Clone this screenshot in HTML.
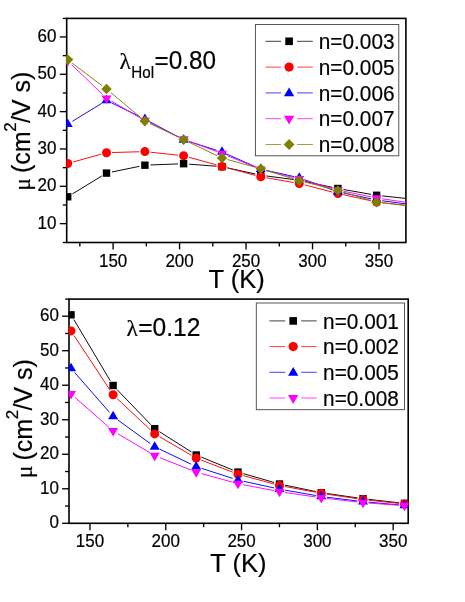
<!DOCTYPE html><html><head><meta charset="utf-8"><title>mobility</title><style>html,body{margin:0;padding:0;background:#fff}svg{display:block}text{font-family:"Liberation Sans", sans-serif;fill:#000;stroke:#000;stroke-width:0.2px}</style></head><body>
<svg width="465" height="602" viewBox="0 0 465 602">
<rect width="465" height="602" fill="#fff"/>
<g style="will-change:transform">
<rect x="66.7" y="18.4" width="339.20" height="224.10" fill="none" stroke="#000" stroke-width="1.6"/>
<line x1="79.86" y1="242.5" x2="79.86" y2="246.4" stroke="#000" stroke-width="1.35"/>
<line x1="113.10" y1="242.5" x2="113.10" y2="249.4" stroke="#000" stroke-width="1.35"/>
<text transform="translate(113.10 266.50) scale(1 1.035)" font-size="17" text-anchor="middle">150</text>
<line x1="146.34" y1="242.5" x2="146.34" y2="246.4" stroke="#000" stroke-width="1.35"/>
<line x1="179.57" y1="242.5" x2="179.57" y2="249.4" stroke="#000" stroke-width="1.35"/>
<text transform="translate(179.57 266.50) scale(1 1.035)" font-size="17" text-anchor="middle">200</text>
<line x1="212.81" y1="242.5" x2="212.81" y2="246.4" stroke="#000" stroke-width="1.35"/>
<line x1="246.05" y1="242.5" x2="246.05" y2="249.4" stroke="#000" stroke-width="1.35"/>
<text transform="translate(246.05 266.50) scale(1 1.035)" font-size="17" text-anchor="middle">250</text>
<line x1="279.29" y1="242.5" x2="279.29" y2="246.4" stroke="#000" stroke-width="1.35"/>
<line x1="312.52" y1="242.5" x2="312.52" y2="249.4" stroke="#000" stroke-width="1.35"/>
<text transform="translate(312.52 266.50) scale(1 1.035)" font-size="17" text-anchor="middle">300</text>
<line x1="345.76" y1="242.5" x2="345.76" y2="246.4" stroke="#000" stroke-width="1.35"/>
<line x1="379.00" y1="242.5" x2="379.00" y2="249.4" stroke="#000" stroke-width="1.35"/>
<text transform="translate(379.00 266.50) scale(1 1.035)" font-size="17" text-anchor="middle">350</text>
<line x1="62.800000000000004" y1="242.50" x2="66.7" y2="242.50" stroke="#000" stroke-width="1.35"/>
<line x1="59.800000000000004" y1="223.65" x2="66.7" y2="223.65" stroke="#000" stroke-width="1.35"/>
<text transform="translate(56.40 228.55) scale(1 1.035)" font-size="17" text-anchor="end">10</text>
<line x1="62.800000000000004" y1="204.98" x2="66.7" y2="204.98" stroke="#000" stroke-width="1.35"/>
<line x1="59.800000000000004" y1="186.31" x2="66.7" y2="186.31" stroke="#000" stroke-width="1.35"/>
<text transform="translate(56.40 191.21) scale(1 1.035)" font-size="17" text-anchor="end">20</text>
<line x1="62.800000000000004" y1="167.64" x2="66.7" y2="167.64" stroke="#000" stroke-width="1.35"/>
<line x1="59.800000000000004" y1="148.97" x2="66.7" y2="148.97" stroke="#000" stroke-width="1.35"/>
<text transform="translate(56.40 153.87) scale(1 1.035)" font-size="17" text-anchor="end">30</text>
<line x1="62.800000000000004" y1="130.30" x2="66.7" y2="130.30" stroke="#000" stroke-width="1.35"/>
<line x1="59.800000000000004" y1="111.63" x2="66.7" y2="111.63" stroke="#000" stroke-width="1.35"/>
<text transform="translate(56.40 116.53) scale(1 1.035)" font-size="17" text-anchor="end">40</text>
<line x1="62.800000000000004" y1="92.96" x2="66.7" y2="92.96" stroke="#000" stroke-width="1.35"/>
<line x1="59.800000000000004" y1="74.29" x2="66.7" y2="74.29" stroke="#000" stroke-width="1.35"/>
<text transform="translate(56.40 79.19) scale(1 1.035)" font-size="17" text-anchor="end">50</text>
<line x1="62.800000000000004" y1="55.62" x2="66.7" y2="55.62" stroke="#000" stroke-width="1.35"/>
<line x1="59.800000000000004" y1="36.95" x2="66.7" y2="36.95" stroke="#000" stroke-width="1.35"/>
<text transform="translate(56.40 41.85) scale(1 1.035)" font-size="17" text-anchor="end">60</text>
<line x1="62.800000000000004" y1="18.40" x2="66.7" y2="18.40" stroke="#000" stroke-width="1.35"/>
<defs><clipPath id="c1"><rect x="66.2" y="17.9" width="340.00" height="225.10"/></clipPath></defs>
<g clip-path="url(#c1)">
<line x1="72.48" y1="193.88" x2="101.72" y2="176.02" stroke="#000000" stroke-width="0.95"/>
<line x1="111.99" y1="171.97" x2="139.41" y2="166.33" stroke="#000000" stroke-width="0.95"/>
<line x1="150.50" y1="164.98" x2="178.00" y2="163.92" stroke="#000000" stroke-width="0.95"/>
<line x1="189.18" y1="164.14" x2="216.42" y2="166.26" stroke="#000000" stroke-width="0.95"/>
<line x1="227.47" y1="167.90" x2="255.33" y2="174.00" stroke="#000000" stroke-width="0.95"/>
<line x1="266.35" y1="175.94" x2="293.75" y2="179.56" stroke="#000000" stroke-width="0.95"/>
<line x1="304.78" y1="181.46" x2="332.42" y2="187.34" stroke="#000000" stroke-width="0.95"/>
<line x1="343.42" y1="189.47" x2="371.08" y2="194.33" stroke="#000000" stroke-width="0.95"/>
<line x1="382.17" y1="195.89" x2="406.60" y2="198.50" stroke="#000000" stroke-width="0.95"/>
<rect x="64.00" y="193.10" width="7.40" height="7.40" fill="#000000"/>
<rect x="102.80" y="169.40" width="7.40" height="7.40" fill="#000000"/>
<rect x="141.20" y="161.50" width="7.40" height="7.40" fill="#000000"/>
<rect x="179.90" y="160.00" width="7.40" height="7.40" fill="#000000"/>
<rect x="218.30" y="163.00" width="7.40" height="7.40" fill="#000000"/>
<rect x="257.10" y="171.50" width="7.40" height="7.40" fill="#000000"/>
<rect x="295.60" y="176.60" width="7.40" height="7.40" fill="#000000"/>
<rect x="334.20" y="184.80" width="7.40" height="7.40" fill="#000000"/>
<rect x="372.90" y="191.60" width="7.40" height="7.40" fill="#000000"/>
<line x1="73.09" y1="162.00" x2="101.11" y2="154.20" stroke="#ff0000" stroke-width="0.95"/>
<line x1="112.10" y1="152.54" x2="139.30" y2="151.76" stroke="#ff0000" stroke-width="0.95"/>
<line x1="150.47" y1="152.20" x2="178.03" y2="155.20" stroke="#ff0000" stroke-width="0.95"/>
<line x1="189.00" y1="157.29" x2="216.60" y2="164.91" stroke="#ff0000" stroke-width="0.95"/>
<line x1="227.41" y1="167.85" x2="255.39" y2="175.35" stroke="#ff0000" stroke-width="0.95"/>
<line x1="266.32" y1="177.76" x2="293.78" y2="182.54" stroke="#ff0000" stroke-width="0.95"/>
<line x1="304.72" y1="184.90" x2="332.48" y2="192.10" stroke="#ff0000" stroke-width="0.95"/>
<line x1="343.37" y1="194.70" x2="371.13" y2="200.80" stroke="#ff0000" stroke-width="0.95"/>
<line x1="382.16" y1="202.65" x2="406.60" y2="205.50" stroke="#ff0000" stroke-width="0.95"/>
<circle cx="67.70" cy="163.50" r="4.50" fill="#ff0000"/>
<circle cx="106.50" cy="152.70" r="4.50" fill="#ff0000"/>
<circle cx="144.90" cy="151.60" r="4.50" fill="#ff0000"/>
<circle cx="183.60" cy="155.80" r="4.50" fill="#ff0000"/>
<circle cx="222.00" cy="166.40" r="4.50" fill="#ff0000"/>
<circle cx="260.80" cy="176.80" r="4.50" fill="#ff0000"/>
<circle cx="299.30" cy="183.50" r="4.50" fill="#ff0000"/>
<circle cx="337.90" cy="193.50" r="4.50" fill="#ff0000"/>
<circle cx="376.60" cy="202.00" r="4.50" fill="#ff0000"/>
<line x1="72.47" y1="121.27" x2="101.73" y2="103.33" stroke="#0000ff" stroke-width="0.95"/>
<line x1="111.53" y1="102.85" x2="139.87" y2="116.65" stroke="#0000ff" stroke-width="0.95"/>
<line x1="149.84" y1="121.74" x2="178.66" y2="137.16" stroke="#0000ff" stroke-width="0.95"/>
<line x1="188.94" y1="141.50" x2="216.66" y2="150.30" stroke="#0000ff" stroke-width="0.95"/>
<line x1="227.12" y1="154.26" x2="255.68" y2="166.84" stroke="#0000ff" stroke-width="0.95"/>
<line x1="266.26" y1="170.33" x2="293.84" y2="176.57" stroke="#0000ff" stroke-width="0.95"/>
<line x1="304.56" y1="179.71" x2="332.64" y2="189.89" stroke="#0000ff" stroke-width="0.95"/>
<line x1="343.38" y1="192.96" x2="371.12" y2="198.84" stroke="#0000ff" stroke-width="0.95"/>
<line x1="382.15" y1="200.74" x2="406.60" y2="204.00" stroke="#0000ff" stroke-width="0.95"/>
<path d="M62.70 127.05L72.70 127.05L67.70 118.55Z" fill="#0000ff"/>
<path d="M101.50 103.25L111.50 103.25L106.50 94.75Z" fill="#0000ff"/>
<path d="M139.90 121.95L149.90 121.95L144.90 113.45Z" fill="#0000ff"/>
<path d="M178.60 142.65L188.60 142.65L183.60 134.15Z" fill="#0000ff"/>
<path d="M217.00 154.85L227.00 154.85L222.00 146.35Z" fill="#0000ff"/>
<path d="M255.80 171.95L265.80 171.95L260.80 163.45Z" fill="#0000ff"/>
<path d="M294.30 180.65L304.30 180.65L299.30 172.15Z" fill="#0000ff"/>
<path d="M332.90 194.65L342.90 194.65L337.90 186.15Z" fill="#0000ff"/>
<path d="M371.60 202.85L381.60 202.85L376.60 194.35Z" fill="#0000ff"/>
<line x1="71.73" y1="64.69" x2="102.47" y2="94.36" stroke="#ff00ff" stroke-width="0.95"/>
<line x1="111.34" y1="101.07" x2="140.06" y2="117.78" stroke="#ff00ff" stroke-width="0.95"/>
<line x1="149.95" y1="123.03" x2="178.55" y2="136.77" stroke="#ff00ff" stroke-width="0.95"/>
<line x1="188.85" y1="141.15" x2="216.75" y2="151.55" stroke="#ff00ff" stroke-width="0.95"/>
<line x1="227.19" y1="155.61" x2="255.61" y2="167.19" stroke="#ff00ff" stroke-width="0.95"/>
<line x1="266.23" y1="170.65" x2="293.87" y2="177.55" stroke="#ff00ff" stroke-width="0.95"/>
<line x1="304.68" y1="180.45" x2="332.52" y2="188.45" stroke="#ff00ff" stroke-width="0.95"/>
<line x1="343.38" y1="191.13" x2="371.12" y2="196.87" stroke="#ff00ff" stroke-width="0.95"/>
<line x1="382.14" y1="198.81" x2="406.60" y2="202.40" stroke="#ff00ff" stroke-width="0.95"/>
<path d="M62.70 57.95L72.70 57.95L67.70 66.45Z" fill="#ff00ff"/>
<path d="M101.50 95.40L111.50 95.40L106.50 103.90Z" fill="#ff00ff"/>
<path d="M139.90 117.75L149.90 117.75L144.90 126.25Z" fill="#ff00ff"/>
<path d="M178.60 136.35L188.60 136.35L183.60 144.85Z" fill="#ff00ff"/>
<path d="M217.00 150.65L227.00 150.65L222.00 159.15Z" fill="#ff00ff"/>
<path d="M255.80 166.45L265.80 166.45L260.80 174.95Z" fill="#ff00ff"/>
<path d="M294.30 176.05L304.30 176.05L299.30 184.55Z" fill="#ff00ff"/>
<path d="M332.90 187.15L342.90 187.15L337.90 195.65Z" fill="#ff00ff"/>
<path d="M371.60 195.15L381.60 195.15L376.60 203.65Z" fill="#ff00ff"/>
<line x1="72.17" y1="63.07" x2="102.03" y2="85.63" stroke="#808000" stroke-width="0.95"/>
<line x1="110.80" y1="92.59" x2="140.60" y2="117.51" stroke="#808000" stroke-width="0.95"/>
<line x1="149.95" y1="123.52" x2="178.55" y2="137.18" stroke="#808000" stroke-width="0.95"/>
<line x1="188.65" y1="142.03" x2="216.95" y2="155.62" stroke="#808000" stroke-width="0.95"/>
<line x1="227.40" y1="159.54" x2="255.40" y2="167.26" stroke="#808000" stroke-width="0.95"/>
<line x1="266.15" y1="170.40" x2="293.95" y2="179.00" stroke="#808000" stroke-width="0.95"/>
<line x1="304.73" y1="182.03" x2="332.47" y2="189.12" stroke="#808000" stroke-width="0.95"/>
<line x1="343.26" y1="192.12" x2="371.24" y2="200.58" stroke="#808000" stroke-width="0.95"/>
<line x1="382.17" y1="202.81" x2="406.60" y2="205.50" stroke="#808000" stroke-width="0.95"/>
<path d="M62.50 59.70L67.70 54.40L72.90 59.70L67.70 65.00Z" fill="#808000"/>
<path d="M101.30 89.00L106.50 83.70L111.70 89.00L106.50 94.30Z" fill="#808000"/>
<path d="M139.70 121.10L144.90 115.80L150.10 121.10L144.90 126.40Z" fill="#808000"/>
<path d="M178.40 139.60L183.60 134.30L188.80 139.60L183.60 144.90Z" fill="#808000"/>
<path d="M216.80 158.05L222.00 152.75L227.20 158.05L222.00 163.35Z" fill="#808000"/>
<path d="M255.60 168.75L260.80 163.45L266.00 168.75L260.80 174.05Z" fill="#808000"/>
<path d="M294.10 180.65L299.30 175.35L304.50 180.65L299.30 185.95Z" fill="#808000"/>
<path d="M332.70 190.50L337.90 185.20L343.10 190.50L337.90 195.80Z" fill="#808000"/>
<path d="M371.40 202.20L376.60 196.90L381.80 202.20L376.60 207.50Z" fill="#808000"/>
<path d="M66.2 55.3L67.8 54.8L73.1 59.6L67.8 64.5L66.2 64.1Z" fill="#808000"/>
</g>
<text transform="translate(236.60 288.40) scale(1 1.0)" font-size="25.5" text-anchor="middle">T (K)</text>
<g transform="translate(30 0) rotate(-90)">
<text x="-190.50" y="0" font-size="23" style='font-family:"Liberation Serif", serif'>μ</text>
<text x="-173.00" y="0" font-size="25">(cm</text>
<text x="-131.70" y="-13.8" font-size="17">2</text>
<text x="-123.00" y="0" font-size="25">/V s)</text>
</g>
<text transform="translate(119.50 69.30) scale(1 0.98)" font-size="23.5" text-anchor="start" style='font-family:"Liberation Serif", serif'>λ</text>
<text transform="translate(131.30 78.40) scale(1 1.035)" font-size="15.2" text-anchor="start">Hol</text>
<text transform="translate(154.50 69.30) scale(1 1.035)" font-size="24.3" text-anchor="start">=0.80</text>
<rect x="255.4" y="24.5" width="143.4" height="131.3" fill="#fff" stroke="#444" stroke-width="0.9"/>
<line x1="265.5" y1="41.3" x2="281.1" y2="41.3" stroke="#000000" stroke-width="0.75"/>
<line x1="297.1" y1="41.3" x2="312.8" y2="41.3" stroke="#000000" stroke-width="0.75"/>
<rect x="285.29" y="37.49" width="7.62" height="7.62" fill="#000000"/>
<text transform="translate(318.80 48.90) scale(1 1.035)" font-size="20.8" text-anchor="start">n=0.003</text>
<line x1="265.5" y1="67.1" x2="281.1" y2="67.1" stroke="#ff0000" stroke-width="0.75"/>
<line x1="297.1" y1="67.1" x2="312.8" y2="67.1" stroke="#ff0000" stroke-width="0.75"/>
<circle cx="289.10" cy="67.10" r="4.63" fill="#ff0000"/>
<text transform="translate(318.80 74.70) scale(1 1.035)" font-size="20.8" text-anchor="start">n=0.005</text>
<line x1="265.5" y1="92.9" x2="281.1" y2="92.9" stroke="#0000ff" stroke-width="0.75"/>
<line x1="297.1" y1="92.9" x2="312.8" y2="92.9" stroke="#0000ff" stroke-width="0.75"/>
<path d="M283.95 96.28L294.25 96.28L289.10 87.52Z" fill="#0000ff"/>
<text transform="translate(318.80 100.50) scale(1 1.035)" font-size="20.8" text-anchor="start">n=0.006</text>
<line x1="265.5" y1="118.7" x2="281.1" y2="118.7" stroke="#ff00ff" stroke-width="0.75"/>
<line x1="297.1" y1="118.7" x2="312.8" y2="118.7" stroke="#ff00ff" stroke-width="0.75"/>
<path d="M283.95 115.82L294.25 115.82L289.10 124.58Z" fill="#ff00ff"/>
<text transform="translate(318.80 126.30) scale(1 1.035)" font-size="20.8" text-anchor="start">n=0.007</text>
<line x1="265.5" y1="144.5" x2="281.1" y2="144.5" stroke="#808000" stroke-width="0.75"/>
<line x1="297.1" y1="144.5" x2="312.8" y2="144.5" stroke="#808000" stroke-width="0.75"/>
<path d="M283.74 144.50L289.10 139.04L294.46 144.50L289.10 149.96Z" fill="#808000"/>
<text transform="translate(318.80 152.10) scale(1 1.035)" font-size="20.8" text-anchor="start">n=0.008</text>
<rect x="69.0" y="299.1" width="339.20" height="224.20" fill="none" stroke="#000" stroke-width="1.6"/>
<line x1="89.96" y1="523.3" x2="89.96" y2="530.1999999999999" stroke="#000" stroke-width="1.35"/>
<text transform="translate(89.96 546.90) scale(1 1.035)" font-size="17" text-anchor="middle">150</text>
<line x1="127.86" y1="523.3" x2="127.86" y2="527.1999999999999" stroke="#000" stroke-width="1.35"/>
<line x1="165.76" y1="523.3" x2="165.76" y2="530.1999999999999" stroke="#000" stroke-width="1.35"/>
<text transform="translate(165.76 546.90) scale(1 1.035)" font-size="17" text-anchor="middle">200</text>
<line x1="203.66" y1="523.3" x2="203.66" y2="527.1999999999999" stroke="#000" stroke-width="1.35"/>
<line x1="241.56" y1="523.3" x2="241.56" y2="530.1999999999999" stroke="#000" stroke-width="1.35"/>
<text transform="translate(241.56 546.90) scale(1 1.035)" font-size="17" text-anchor="middle">250</text>
<line x1="279.46" y1="523.3" x2="279.46" y2="527.1999999999999" stroke="#000" stroke-width="1.35"/>
<line x1="317.36" y1="523.3" x2="317.36" y2="530.1999999999999" stroke="#000" stroke-width="1.35"/>
<text transform="translate(317.36 546.90) scale(1 1.035)" font-size="17" text-anchor="middle">300</text>
<line x1="355.26" y1="523.3" x2="355.26" y2="527.1999999999999" stroke="#000" stroke-width="1.35"/>
<line x1="393.16" y1="523.3" x2="393.16" y2="530.1999999999999" stroke="#000" stroke-width="1.35"/>
<text transform="translate(393.16 546.90) scale(1 1.035)" font-size="17" text-anchor="middle">350</text>
<line x1="62.1" y1="523.30" x2="69.0" y2="523.30" stroke="#000" stroke-width="1.35"/>
<text transform="translate(59.00 528.20) scale(1 1.035)" font-size="17" text-anchor="end">0</text>
<line x1="65.1" y1="506.04" x2="69.0" y2="506.04" stroke="#000" stroke-width="1.35"/>
<line x1="62.1" y1="488.78" x2="69.0" y2="488.78" stroke="#000" stroke-width="1.35"/>
<text transform="translate(59.00 493.68) scale(1 1.035)" font-size="17" text-anchor="end">10</text>
<line x1="65.1" y1="471.52" x2="69.0" y2="471.52" stroke="#000" stroke-width="1.35"/>
<line x1="62.1" y1="454.26" x2="69.0" y2="454.26" stroke="#000" stroke-width="1.35"/>
<text transform="translate(59.00 459.16) scale(1 1.035)" font-size="17" text-anchor="end">20</text>
<line x1="65.1" y1="437.00" x2="69.0" y2="437.00" stroke="#000" stroke-width="1.35"/>
<line x1="62.1" y1="419.74" x2="69.0" y2="419.74" stroke="#000" stroke-width="1.35"/>
<text transform="translate(59.00 424.64) scale(1 1.035)" font-size="17" text-anchor="end">30</text>
<line x1="65.1" y1="402.48" x2="69.0" y2="402.48" stroke="#000" stroke-width="1.35"/>
<line x1="62.1" y1="385.22" x2="69.0" y2="385.22" stroke="#000" stroke-width="1.35"/>
<text transform="translate(59.00 390.12) scale(1 1.035)" font-size="17" text-anchor="end">40</text>
<line x1="65.1" y1="367.96" x2="69.0" y2="367.96" stroke="#000" stroke-width="1.35"/>
<line x1="62.1" y1="350.70" x2="69.0" y2="350.70" stroke="#000" stroke-width="1.35"/>
<text transform="translate(59.00 355.60) scale(1 1.035)" font-size="17" text-anchor="end">50</text>
<line x1="65.1" y1="333.44" x2="69.0" y2="333.44" stroke="#000" stroke-width="1.35"/>
<line x1="62.1" y1="316.18" x2="69.0" y2="316.18" stroke="#000" stroke-width="1.35"/>
<text transform="translate(59.00 321.08) scale(1 1.035)" font-size="17" text-anchor="end">60</text>
<line x1="65.1" y1="299.10" x2="69.0" y2="299.10" stroke="#000" stroke-width="1.35"/>
<defs><clipPath id="c2"><rect x="68.5" y="298.6" width="340.00" height="225.20"/></clipPath></defs>
<g clip-path="url(#c2)">
<line x1="73.87" y1="319.61" x2="110.23" y2="380.69" stroke="#000000" stroke-width="0.95"/>
<line x1="116.98" y1="389.53" x2="150.82" y2="424.67" stroke="#000000" stroke-width="0.95"/>
<line x1="159.43" y1="431.70" x2="191.47" y2="452.00" stroke="#000000" stroke-width="0.95"/>
<line x1="201.38" y1="457.12" x2="232.82" y2="469.98" stroke="#000000" stroke-width="0.95"/>
<line x1="243.38" y1="473.64" x2="274.12" y2="482.46" stroke="#000000" stroke-width="0.95"/>
<line x1="284.98" y1="485.14" x2="315.82" y2="491.56" stroke="#000000" stroke-width="0.95"/>
<line x1="326.84" y1="493.50" x2="357.46" y2="497.90" stroke="#000000" stroke-width="0.95"/>
<line x1="368.56" y1="499.33" x2="398.94" y2="502.77" stroke="#000000" stroke-width="0.95"/>
<rect x="67.30" y="311.10" width="7.40" height="7.40" fill="#000000"/>
<rect x="109.40" y="381.80" width="7.40" height="7.40" fill="#000000"/>
<rect x="151.00" y="425.00" width="7.40" height="7.40" fill="#000000"/>
<rect x="192.50" y="451.30" width="7.40" height="7.40" fill="#000000"/>
<rect x="234.30" y="468.40" width="7.40" height="7.40" fill="#000000"/>
<rect x="275.80" y="480.30" width="7.40" height="7.40" fill="#000000"/>
<rect x="317.60" y="489.00" width="7.40" height="7.40" fill="#000000"/>
<rect x="359.30" y="495.00" width="7.40" height="7.40" fill="#000000"/>
<rect x="400.80" y="499.70" width="7.40" height="7.40" fill="#000000"/>
<line x1="74.08" y1="335.58" x2="110.02" y2="390.12" stroke="#ff0000" stroke-width="0.95"/>
<line x1="117.18" y1="398.64" x2="150.62" y2="430.06" stroke="#ff0000" stroke-width="0.95"/>
<line x1="159.54" y1="436.72" x2="191.36" y2="455.28" stroke="#ff0000" stroke-width="0.95"/>
<line x1="201.43" y1="460.11" x2="232.77" y2="472.19" stroke="#ff0000" stroke-width="0.95"/>
<line x1="243.40" y1="475.67" x2="274.10" y2="484.03" stroke="#ff0000" stroke-width="0.95"/>
<line x1="285.00" y1="486.53" x2="315.80" y2="492.27" stroke="#ff0000" stroke-width="0.95"/>
<line x1="326.84" y1="494.14" x2="357.46" y2="498.76" stroke="#ff0000" stroke-width="0.95"/>
<line x1="368.57" y1="500.19" x2="398.93" y2="503.41" stroke="#ff0000" stroke-width="0.95"/>
<circle cx="71.00" cy="330.90" r="4.50" fill="#ff0000"/>
<circle cx="113.10" cy="394.80" r="4.50" fill="#ff0000"/>
<circle cx="154.70" cy="433.90" r="4.50" fill="#ff0000"/>
<circle cx="196.20" cy="458.10" r="4.50" fill="#ff0000"/>
<circle cx="238.00" cy="474.20" r="4.50" fill="#ff0000"/>
<circle cx="279.50" cy="485.50" r="4.50" fill="#ff0000"/>
<circle cx="321.30" cy="493.30" r="4.50" fill="#ff0000"/>
<circle cx="363.00" cy="499.60" r="4.50" fill="#ff0000"/>
<circle cx="404.50" cy="504.00" r="4.50" fill="#ff0000"/>
<line x1="74.68" y1="372.52" x2="109.42" y2="412.28" stroke="#0000ff" stroke-width="0.95"/>
<line x1="117.63" y1="419.80" x2="150.17" y2="443.50" stroke="#0000ff" stroke-width="0.95"/>
<line x1="159.75" y1="449.21" x2="191.15" y2="464.19" stroke="#0000ff" stroke-width="0.95"/>
<line x1="201.53" y1="468.32" x2="232.67" y2="478.38" stroke="#0000ff" stroke-width="0.95"/>
<line x1="243.47" y1="481.29" x2="274.03" y2="487.91" stroke="#0000ff" stroke-width="0.95"/>
<line x1="285.01" y1="490.08" x2="315.79" y2="495.52" stroke="#0000ff" stroke-width="0.95"/>
<line x1="326.86" y1="497.19" x2="357.44" y2="501.01" stroke="#0000ff" stroke-width="0.95"/>
<line x1="368.58" y1="502.20" x2="398.92" y2="504.90" stroke="#0000ff" stroke-width="0.95"/>
<path d="M66.00 371.15L76.00 371.15L71.00 362.65Z" fill="#0000ff"/>
<path d="M108.10 419.35L118.10 419.35L113.10 410.85Z" fill="#0000ff"/>
<path d="M149.70 449.65L159.70 449.65L154.70 441.15Z" fill="#0000ff"/>
<path d="M191.20 469.45L201.20 469.45L196.20 460.95Z" fill="#0000ff"/>
<path d="M233.00 482.95L243.00 482.95L238.00 474.45Z" fill="#0000ff"/>
<path d="M274.50 491.95L284.50 491.95L279.50 483.45Z" fill="#0000ff"/>
<path d="M316.30 499.35L326.30 499.35L321.30 490.85Z" fill="#0000ff"/>
<path d="M358.00 504.55L368.00 504.55L363.00 496.05Z" fill="#0000ff"/>
<path d="M399.50 508.25L409.50 508.25L404.50 499.75Z" fill="#0000ff"/>
<line x1="75.21" y1="397.60" x2="108.89" y2="427.20" stroke="#ff00ff" stroke-width="0.95"/>
<line x1="117.92" y1="433.76" x2="149.88" y2="452.74" stroke="#ff00ff" stroke-width="0.95"/>
<line x1="159.90" y1="457.67" x2="191.00" y2="470.03" stroke="#ff00ff" stroke-width="0.95"/>
<line x1="201.60" y1="473.60" x2="232.60" y2="482.20" stroke="#ff00ff" stroke-width="0.95"/>
<line x1="243.50" y1="484.76" x2="274.00" y2="490.64" stroke="#ff00ff" stroke-width="0.95"/>
<line x1="285.04" y1="492.51" x2="315.76" y2="496.99" stroke="#ff00ff" stroke-width="0.95"/>
<line x1="326.86" y1="498.44" x2="357.44" y2="501.96" stroke="#ff00ff" stroke-width="0.95"/>
<line x1="368.58" y1="503.02" x2="398.92" y2="505.28" stroke="#ff00ff" stroke-width="0.95"/>
<path d="M66.00 391.05L76.00 391.05L71.00 399.55Z" fill="#ff00ff"/>
<path d="M108.10 428.05L118.10 428.05L113.10 436.55Z" fill="#ff00ff"/>
<path d="M149.70 452.75L159.70 452.75L154.70 461.25Z" fill="#ff00ff"/>
<path d="M191.20 469.25L201.20 469.25L196.20 477.75Z" fill="#ff00ff"/>
<path d="M233.00 480.85L243.00 480.85L238.00 489.35Z" fill="#ff00ff"/>
<path d="M274.50 488.85L284.50 488.85L279.50 497.35Z" fill="#ff00ff"/>
<path d="M316.30 494.95L326.30 494.95L321.30 503.45Z" fill="#ff00ff"/>
<path d="M358.00 499.75L368.00 499.75L363.00 508.25Z" fill="#ff00ff"/>
<path d="M399.50 502.85L409.50 502.85L404.50 511.35Z" fill="#ff00ff"/>
</g>
<text transform="translate(238.40 572.10) scale(1 1.0)" font-size="25.5" text-anchor="middle">T (K)</text>
<g transform="translate(31.5 0) rotate(-90)">
<text x="-478.00" y="0" font-size="23" style='font-family:"Liberation Serif", serif'>μ</text>
<text x="-460.50" y="0" font-size="25">(cm</text>
<text x="-419.20" y="-13.8" font-size="17">2</text>
<text x="-410.50" y="0" font-size="25">/V s)</text>
</g>
<text transform="translate(126.50 336.30) scale(1 0.98)" font-size="23.5" text-anchor="start" style='font-family:"Liberation Serif", serif'>λ</text>
<text transform="translate(138.20 336.30) scale(1 1.035)" font-size="24.6" text-anchor="start">=0.12</text>
<rect x="256.3" y="303.0" width="148.2" height="106.69999999999999" fill="#fff" stroke="#444" stroke-width="0.9"/>
<line x1="269.4" y1="320.9" x2="285.2" y2="320.9" stroke="#000000" stroke-width="0.75"/>
<line x1="301.2" y1="320.9" x2="316.7" y2="320.9" stroke="#000000" stroke-width="0.75"/>
<rect x="289.39" y="317.09" width="7.62" height="7.62" fill="#000000"/>
<text transform="translate(323.10 328.50) scale(1 1.035)" font-size="20.8" text-anchor="start">n=0.001</text>
<line x1="269.4" y1="346.6" x2="285.2" y2="346.6" stroke="#ff0000" stroke-width="0.75"/>
<line x1="301.2" y1="346.6" x2="316.7" y2="346.6" stroke="#ff0000" stroke-width="0.75"/>
<circle cx="293.20" cy="346.60" r="4.63" fill="#ff0000"/>
<text transform="translate(323.10 354.20) scale(1 1.035)" font-size="20.8" text-anchor="start">n=0.002</text>
<line x1="269.4" y1="372.3" x2="285.2" y2="372.3" stroke="#0000ff" stroke-width="0.75"/>
<line x1="301.2" y1="372.3" x2="316.7" y2="372.3" stroke="#0000ff" stroke-width="0.75"/>
<path d="M288.05 375.68L298.35 375.68L293.20 366.92Z" fill="#0000ff"/>
<text transform="translate(323.10 379.90) scale(1 1.035)" font-size="20.8" text-anchor="start">n=0.005</text>
<line x1="269.4" y1="398.0" x2="285.2" y2="398.0" stroke="#ff00ff" stroke-width="0.75"/>
<line x1="301.2" y1="398.0" x2="316.7" y2="398.0" stroke="#ff00ff" stroke-width="0.75"/>
<path d="M288.05 395.12L298.35 395.12L293.20 403.88Z" fill="#ff00ff"/>
<text transform="translate(323.10 405.60) scale(1 1.035)" font-size="20.8" text-anchor="start">n=0.008</text>
</g></svg></body></html>
